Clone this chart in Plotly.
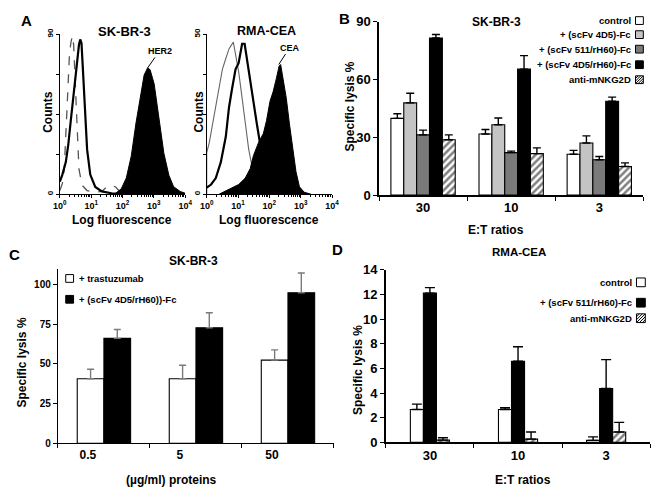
import plotly.graph_objects as go

# ---- panel A: flow histograms (log10 fluorescence, counts) ----
skbr_iso_logx = [0.0, 0.08, 0.19, 0.27, 0.34, 0.45, 0.55, 0.61, 0.65, 0.69, 0.73, 0.79, 0.87, 0.97, 1.13, 1.34, 1.65, 2.17, 4.0]
skbr_iso_cnt = [7, 11, 18, 28, 40, 58, 76, 84, 87, 85, 72, 49, 25, 11, 4, 1.5, 0.5, 0, 0]
skbr_neg_logx = [0.0, 0.08, 0.14, 0.21, 0.27, 0.31, 0.36, 0.40, 0.44, 0.50, 0.55, 0.61, 0.71, 0.87, 1.13, 1.34, 1.49, 1.65, 1.78, 1.91, 2.07]
skbr_neg_cnt = [2, 6, 14, 40, 67, 80, 86, 89, 84, 58, 31, 14, 5, 2, 1, 1.5, 4, 5, 4, 1.5, 0.3]
her2_logx = [1.75, 1.96, 2.12, 2.28, 2.43, 2.59, 2.69, 2.80, 2.88, 3.01, 3.16, 3.32, 3.48, 3.63, 3.84, 4.0]
her2_cnt = [0, 3, 9, 21.5, 40, 58, 67, 71, 70, 62, 43, 23, 10.6, 4.2, 1.5, 0.5]

rma_neg_logx = [0.0, 0.0, 0.08, 0.19, 0.29, 0.40, 0.50, 0.61, 0.71, 0.85, 0.92, 1.02, 1.13, 1.23, 1.34, 1.42, 1.55, 1.75, 2.07]
rma_neg_cnt = [0, 13, 16, 22, 27, 33, 39, 42.4, 45.4, 47.5, 43.4, 38.3, 30, 22, 14, 10, 4, 1, 0]
rma_iso_logx = [0.0, 0.14, 0.29, 0.45, 0.61, 0.71, 0.81, 0.92, 1.02, 1.13, 1.21, 1.28, 1.39, 1.49, 1.60, 1.70, 1.81, 1.96, 2.17, 2.38]
rma_iso_cnt = [2, 3, 5, 10, 18, 27, 33, 39, 41, 47, 47, 42.4, 35, 28, 22, 16, 11, 6, 2, 0]
cea_logx = [0.40, 0.61, 0.81, 1.02, 1.23, 1.39, 1.49, 1.65, 1.81, 1.91, 2.02, 2.12, 2.22, 2.31, 2.36, 2.43, 2.54, 2.64, 2.75, 2.85, 2.96, 3.11, 3.32]
cea_cnt = [0, 1, 2, 3, 5, 8, 12, 16, 19, 23, 29, 32, 36, 40, 40.5, 36, 30, 22, 14, 7, 2.3, 0.6, 0]

# ---- panel B ----
et_ratios = ["30", "10", "3"]
b_names = ["control", "+ (scFv 4D5)-Fc", "+ (scFv 511/rH60)-Fc", "+ (scFv 4D5/rH60)-Fc", "anti-mNKG2D"]
b_control = [39.8, 31.7, 21.2]
b_4d5 = [47.8, 36.5, 27.0]
b_511 = [31.2, 22.0, 18.3]
b_4d5rh60 = [81.5, 65.3, 48.7]
b_anti = [28.7, 21.5, 14.8]
b_control_err = [2.4, 2.3, 2.0]
b_4d5_err = [5.0, 3.5, 3.7]
b_511_err = [2.5, 0.8, 1.7]
b_4d5rh60_err = [1.8, 7.0, 2.1]
b_anti_err = [2.5, 3.0, 1.9]

# ---- panel C ----
doses = ["0.5", "5", "50"]
c_names = ["+ trastuzumab", "+ (scFv 4D5/rH60))-Fc"]
c_trast = [40.7, 40.7, 52.4]
c_trast_err = [6.0, 8.5, 6.5]
c_scfv = [66.1, 72.8, 94.9]
c_scfv_err = [5.6, 9.5, 12.4]

# ---- panel D ----
d_names = ["control", "+ (scFv 511/rH60)-Fc", "anti-mNKG2D"]
d_control = [2.66, 2.66, 0.16]
d_control_err = [0.44, 0.14, 0.28]
d_511 = [12.1, 6.58, 4.36]
d_511_err = [0.45, 1.17, 2.35]
d_anti = [0.18, 0.26, 0.84]
d_anti_err = [0.19, 0.58, 0.78]

W, H = 666, 492
FONT = "Liberation Sans"


def px(x):
    return x / W


def py(y):
    return 1 - y / H


def f(size, color="black"):
    return dict(family=FONT, size=size, color=color, weight="bold")


fig = go.Figure()

# histograms
fig.add_trace(go.Scatter(x=[10 ** v for v in skbr_neg_logx], y=skbr_neg_cnt, mode="lines",
                         line=dict(color="#555", width=1.3, dash="dash"), xaxis="x", yaxis="y"))
fig.add_trace(go.Scatter(x=[10 ** v for v in skbr_iso_logx], y=skbr_iso_cnt, mode="lines",
                         line=dict(color="black", width=2.2), xaxis="x", yaxis="y"))
fig.add_trace(go.Scatter(x=[10 ** v for v in her2_logx], y=her2_cnt, mode="lines", fill="tozeroy",
                         fillcolor="black", line=dict(color="black", width=1), xaxis="x", yaxis="y"))
fig.add_trace(go.Scatter(x=[10 ** v for v in rma_neg_logx], y=rma_neg_cnt, mode="lines",
                         line=dict(color="#666", width=1.1), xaxis="x2", yaxis="y2"))
fig.add_trace(go.Scatter(x=[10 ** v for v in rma_iso_logx], y=rma_iso_cnt, mode="lines",
                         line=dict(color="black", width=2.2), xaxis="x2", yaxis="y2"))
fig.add_trace(go.Scatter(x=[10 ** v for v in cea_logx], y=cea_cnt, mode="lines", fill="tozeroy",
                         fillcolor="black", line=dict(color="black", width=1), xaxis="x2", yaxis="y2"))


def add_bars(cats, series, errs, styles, width, ax, err_color, cap):
    n = len(series)
    for i, (vals, err, st) in enumerate(zip(series, errs, styles)):
        marker = dict(color=st, line=dict(color="black", width=1.1))
        if st == "hatch":
            marker = dict(color="white", line=dict(color="black", width=1.1),
                          pattern=dict(shape="/", fgcolor="black", bgcolor="white", size=5, solidity=0.5))
        fig.add_trace(go.Bar(
            x=cats, y=vals, width=width, offset=-n * width / 2 + i * width,
            marker=marker, xaxis="x" + ax, yaxis="y" + ax,
            error_y=dict(type="data", symmetric=False, array=err, arrayminus=[0] * len(err),
                         color=err_color, thickness=1.4, width=cap)))


add_bars(et_ratios, [b_control, b_4d5, b_511, b_4d5rh60, b_anti],
         [b_control_err, b_4d5_err, b_511_err, b_4d5rh60_err, b_anti_err],
         ["white", "#c4c4c4", "#7a7a7a", "black", "hatch"], 0.146, "3", "black", 4)
add_bars(doses, [c_trast, c_scfv], [c_trast_err, c_scfv_err],
         ["white", "black"], 0.29, "4", "#7a7a7a", 3.5)
add_bars(et_ratios, [d_control, d_511, d_anti], [d_control_err, d_511_err, d_anti_err],
         ["white", "black", "hatch"], 0.148, "5", "black", 5)

axis_common = dict(showline=True, linecolor="black", showgrid=False, zeroline=False,
                   ticks="outside", tickcolor="black", fixedrange=True)

hist_x = dict(axis_common, type="log", range=[0, 4], linewidth=1,
              tickvals=[1, 10, 100, 1000, 10000],
              ticktext=["10<sup>0</sup>", "10<sup>1</sup>", "10<sup>2</sup>", "10<sup>3</sup>", "10<sup>4</sup>"],
              ticklen=3, tickfont=f(9),
              minor=dict(ticks="outside", ticklen=2, tickcolor="black", dtick="D1"))
hist_y = dict(axis_common, linewidth=1, tickangle=-90, ticklen=3, tickfont=f(8),
              minor=dict(ticks="outside", ticklen=3, tickcolor="black"))

layout = dict(
    width=W, height=H, margin=dict(l=0, r=0, t=0, b=0),
    paper_bgcolor="white", plot_bgcolor="white", showlegend=False,
    xaxis=dict(hist_x, domain=[px(54), px(182)], anchor="y"),
    yaxis=dict(hist_y, domain=[py(193), py(28)], range=[0, 90], anchor="x",
               tickvals=[0, 90], minor_dtick=22.5),
    xaxis2=dict(hist_x, domain=[px(204), px(332)], anchor="y2"),
    yaxis2=dict(hist_y, domain=[py(193), py(28)], range=[0, 50], anchor="x2",
                tickvals=[0, 50], minor_dtick=12.5),
    xaxis3=dict(axis_common, domain=[px(380), px(650)], anchor="y3", linewidth=1.5,
                type="category", range=[-0.5, 2.5], tickson="boundaries", ticklen=4,
                tickfont=f(13)),
    yaxis3=dict(axis_common, domain=[py(194), py(15)], anchor="x3", linewidth=1.5,
                range=[0, 90], tickvals=[0, 30, 60, 90], ticklen=4, tickfont=f(13)),
    xaxis4=dict(axis_common, domain=[px(52), px(334)], anchor="y4", linewidth=1.2,
                type="category", range=[-0.5, 2.5], tickson="boundaries", ticklen=4,
                tickfont=f(12), ticklabelshift=-16),
    yaxis4=dict(axis_common, domain=[py(450), py(270)], anchor="x4", linewidth=1.2,
                range=[0, 110], tickvals=[0, 25, 50, 75, 100], ticklen=4, tickfont=f(10)),
    xaxis5=dict(axis_common, domain=[px(387), px(657)], anchor="y5", linewidth=1.5,
                type="category", range=[-0.5, 2.5], tickson="boundaries", ticklen=4,
                tickfont=f(13)),
    yaxis5=dict(axis_common, domain=[py(449), py(271)], anchor="x5", linewidth=1.5,
                range=[0, 14], dtick=2, ticklen=4, tickfont=f(13)),
)
fig.update_layout(**layout)

ann = []


def text(x, y, s, size, angle=0, xanchor="center", color="black"):
    ann.append(dict(x=px(x), y=py(y), xref="paper", yref="paper", text=s, showarrow=False,
                    font=f(size, color), textangle=angle, xanchor=xanchor, yanchor="middle"))


# panel letters and titles
text(20, 14, "A", 15)
text(345, 12, "B", 15)
text(8, 255, "C", 15)
text(338, 250, "D", 15)
text(120, 25, "SK-BR-3", 13)
text(265, 25, "RMA-CEA", 12.5)
text(500, 15, "SK-BR-3", 12)
text(190, 262, "SK-BR-3", 12)
text(523, 253, "RMA-CEA", 11.5)

# axis titles
text(42, 108, "Counts", 12, -90)
text(196, 108, "Counts", 12, -90)
text(117, 220, "Log fluorescence", 12)
text(268, 220, "Log fluorescence", 12)
text(350, 103, "Specific lysis %", 12, -90)
text(500, 230, "E:T ratios", 12)
text(15, 367, "Specific lysis %", 12, -90)
text(168, 488, "(\u00b5g/ml) proteins", 12)
text(358, 374, "Specific lysis %", 12, -90)
text(527, 488, "E:T ratios", 12)

# HER2 / CEA markers
ann.append(dict(x=2.8, y=71, xref="x", yref="y", text="HER2", showarrow=True, arrowhead=0,
                arrowwidth=1, arrowcolor="black", ax=12, ay=-17, font=f(9)))
ann.append(dict(x=2.3, y=40.5, xref="x2", yref="y2", text="CEA", showarrow=True, arrowhead=0,
                arrowwidth=1, arrowcolor="black", ax=11, ay=-17, font=f(9)))

shapes = []


def swatch(x0, yc, fill, s=8):
    y0, y1 = yc - s / 2, yc + s / 2
    shapes.append(dict(type="rect", xref="paper", yref="paper", x0=px(x0), x1=px(x0 + s),
                       y0=py(y1), y1=py(y0), fillcolor="white" if fill == "hatch" else fill,
                       line=dict(color="black", width=1)))
    if fill == "hatch":
        for c in [-0.66, -0.33, 0, 0.33, 0.66]:
            c *= s
            u0, v0 = max(0, c), max(0, -c)
            u1, v1 = min(s, s + c), min(s, s - c)
            shapes.append(dict(type="line", xref="paper", yref="paper",
                               x0=px(x0 + u0), y0=py(y1 - v0), x1=px(x0 + u1), y1=py(y1 - v1),
                               line=dict(color="black", width=1)))


for name, st, yc in zip(b_names, ["white", "#c4c4c4", "#7a7a7a", "black", "hatch"],
                        [14, 28.5, 43.5, 59.5, 75]):
    text(639, yc, name, 9.5, xanchor="right")
    swatch(642, yc, st)

for name, st, yc in zip(c_names, ["white", "black"], [280, 301.5]):
    text(71, yc, name, 9.5, xanchor="left")
    swatch(60, yc, st)

for name, st, yc in zip(d_names, ["white", "black", "hatch"], [284, 305, 321]):
    text(640, yc, name, 9.5, xanchor="right")
    swatch(643, yc, st, 9)

fig.update_layout(annotations=ann, shapes=shapes)
# the page body has a default 8px margin; drop it so the figure sits at the window origin
fig.write_html("out.html", config={"displayModeBar": False},
               post_script="document.body.style.margin='0';")
